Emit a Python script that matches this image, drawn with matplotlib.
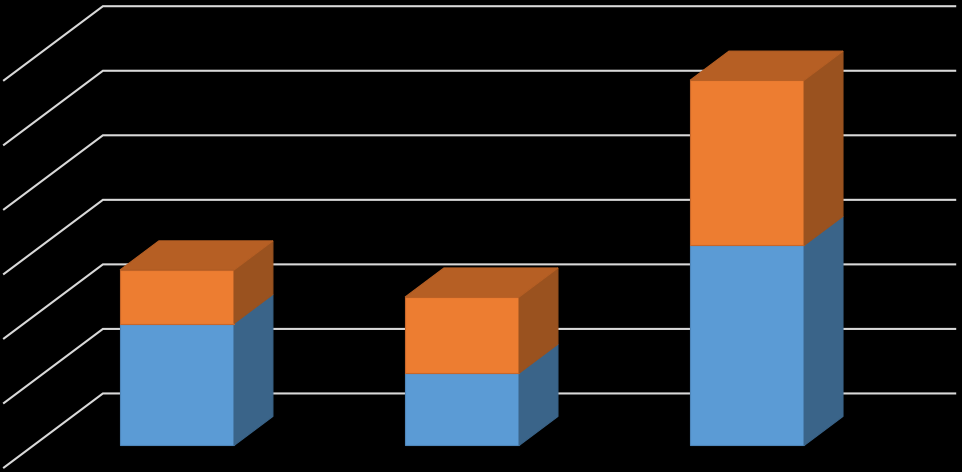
import matplotlib
matplotlib.use("Agg")
import matplotlib.pyplot as plt

# data (no labels in the original)
categories = ["A", "B", "C"]
series_blue = [1.89, 1.12, 3.10]
series_orange = [0.83, 1.18, 2.56]
grid_values = [0, 1, 2, 3, 4, 5, 6]

# oblique projection: depth d in [0, 1] shifts points right and up
DX, DZ = 0.347, 1.147
D0, D1 = 0.297, 0.69      # bar front / back depth
W = 0.4                   # bar width
X_LEFT, X_RIGHT = -0.504, 2.486


def proj(x, z, d):
    return x + d * DX, z + d * DZ


def face(ax, pts, color, edge):
    xs, ys = zip(*[proj(*p) for p in pts])
    ax.fill(xs, ys, facecolor=color, edgecolor=edge, linewidth=0.8, zorder=3)


fig = plt.figure(figsize=(9.623, 4.723), dpi=100, facecolor="black")
ax = fig.add_axes([0, 0, 1, 1])
ax.set_facecolor("black")
ax.set_xlim(-0.518, 2.858)
ax.set_ylim(-0.07, 7.248)
ax.axis("off")

# walls: diagonal on the left side, horizontal on the back
for g in grid_values:
    x0, y0 = proj(X_LEFT, g, 0)
    x1, y1 = proj(X_LEFT, g, 1)
    x2, y2 = proj(X_RIGHT, g, 1)
    ax.plot([x0, x1, x2], [y0, y1, y2], color="#D9D9D9", lw=1.5,
            solid_joinstyle="miter", zorder=1)

styles = [
    ("#5B9BD5", "#3A6489", "#4A7FB5", "#4E86BA"),   # front, side, top, edge
    ("#ED7D31", "#9A521F", "#B65F24", "#C8672A"),
]

for i in range(len(categories)):
    bottom = 0
    segs = [series_blue[i], series_orange[i]]
    for k, v in enumerate(segs):
        front, side, top, edge = styles[k]
        z0, z1 = bottom, bottom + v
        xl, xr = i - W / 2, i + W / 2
        face(ax, [(xl, z0, D0), (xr, z0, D0), (xr, z1, D0), (xl, z1, D0)], front, edge)
        face(ax, [(xr, z0, D0), (xr, z0, D1), (xr, z1, D1), (xr, z1, D0)], side, side)
        if k == len(segs) - 1:
            face(ax, [(xl, z1, D0), (xr, z1, D0), (xr, z1, D1), (xl, z1, D1)], top, top)
        bottom = z1

fig.savefig("out.png", dpi=100, facecolor="black")
